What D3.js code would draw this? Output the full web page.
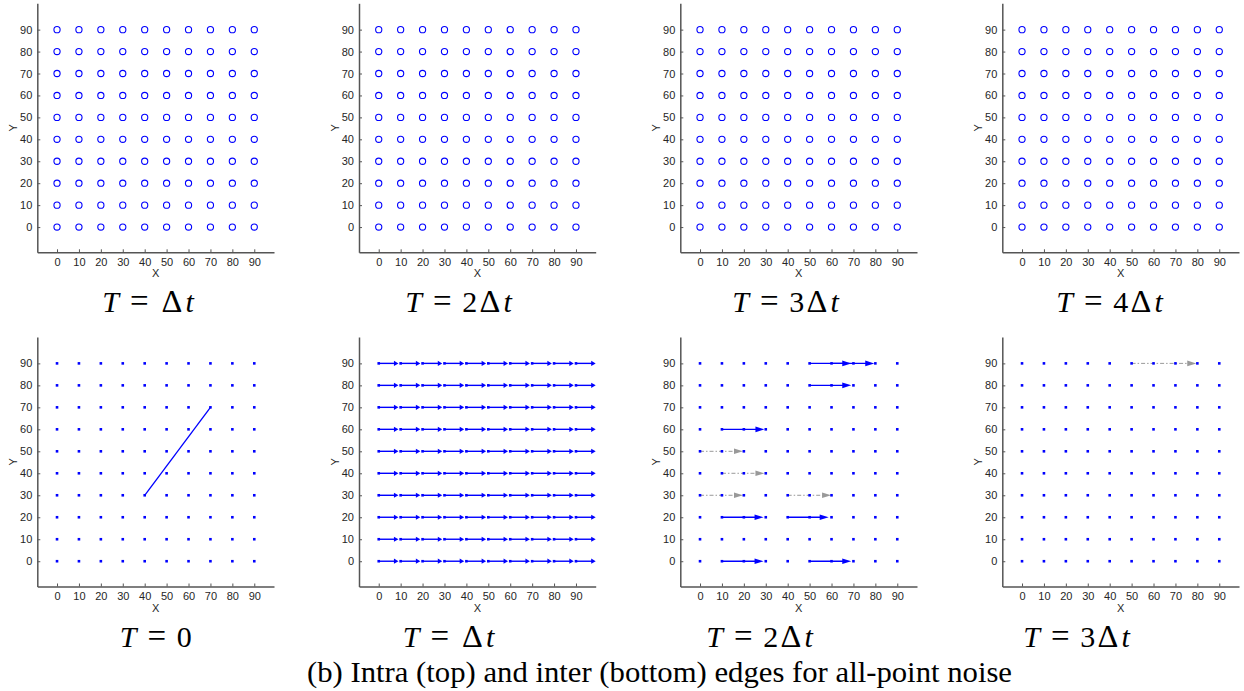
<!DOCTYPE html>
<html><head><meta charset="utf-8">
<script src="https://cdn.jsdelivr.net/npm/d3@7"></script>
<style>
body{margin:0;background:#fff;}
svg{display:block;}
</style></head>
<body>
<svg id="c" width="1244" height="691"></svg>
<script>
// ---------- data ----------
const gridX = [0, 10, 20, 30, 40, 50, 60, 70, 80, 90];
const gridY = [0, 10, 20, 30, 40, 50, 60, 70, 80, 90];
const tickValues = [0, 10, 20, 30, 40, 50, 60, 70, 80, 90];
const topTitles = ["T = Δt", "T = 2Δt", "T = 3Δt", "T = 4Δt"];
const bottomTitles = ["T = 0", "T = Δt", "T = 2Δt", "T = 3Δt"];
const caption = "(b) Intra (top) and inter (bottom) edges for all-point noise";
// T = 0 : single intra edge  [x0, y0, x1, y1]
const t0Edges = [[40, 30, 70, 70]];
// T = Δt : every point linked to right neighbour (quiver, end)
const dtArrowStarts = [0, 10, 20, 30, 40, 50, 60, 70, 80, 90];
const dtArrowEnds   = [9, 19, 29, 39, 49, 59, 69, 79, 89, 99];
// T = 2Δt : [x0, y, x1]
const t2BlueArrows = [[50, 90, 69], [60, 90, 79.5], [50, 80, 69], [10, 60, 29.4],
                      [10, 20, 29], [40, 20, 58.7], [10, 0, 29], [50, 0, 69]];
const t2GrayArrows = [[0, 50, 19.6], [10, 40, 29.4], [0, 30, 19.6], [40, 30, 59.8]];
// T = 3Δt
const t3GrayArrows = [[50, 90, 79.5]];

// ---------- layout ----------
const axLeft = [37.3, 359, 680.3, 1002.3];
const axWidth = 236.7;
const xDomain = [-9, 99];
const yDomain = [-11.5, 102];
const rows = [{top: 3.3, bottom: 252.3, titleY: 311.7, titleX: [148.5, 459, 786, 1110]},
              {top: 337, bottom: 586.5, titleY: 646.5, titleX: [155.5, 449, 760, 1077]}];
const BLUE = "#0000ff", GRAY = "#999999", AXIS = "#555555", TXT = "#262626";
const SANS = "'Liberation Sans', Arial, sans-serif";
const SERIF = "'Liberation Serif', 'Times New Roman', serif";
// Computer-Modern-like advance widths (em) for math title glyphs
const cmAdv = {"T": 0.584, "=": 0.778, "Δ": 0.833, "t": 0.361, "0": 0.5, "2": 0.5, "3": 0.5, "4": 0.5, " ": 0.278};
const TITLE_FS = 30;

const svg = d3.select("#c");

function drawTitle(g, str, cx, y) {
  const chars = Array.from(str);
  const total = d3.sum(chars, ch => cmAdv[ch]) * TITLE_FS;
  let x = cx - total / 2;
  chars.forEach(ch => {
    const w = cmAdv[ch] * TITLE_FS;
    if (ch !== " ") {
      g.append("text").attr("x", x + w / 2).attr("y", y).attr("text-anchor", "middle")
        .attr("font-family", SERIF)
        .attr("font-size", ch === "Δ" ? TITLE_FS * 1.08 : (ch === "=" ? TITLE_FS * 1.1 : TITLE_FS))
        .attr("font-style", (ch === "T" || ch === "t") ? "italic" : "normal")
        .attr("fill", "#000").text(ch);
    }
    x += w;
  });
}

function makePanel(row, col) {
  const r = rows[row];
  const x = d3.scaleLinear().domain(xDomain).range([axLeft[col], axLeft[col] + axWidth]);
  const y = d3.scaleLinear().domain(yDomain).range([r.bottom, r.top]);
  const g = svg.append("g");
  const ax = d3.axisBottom(x).tickValues(tickValues).tickSize(-3).tickPadding(6).tickSizeOuter(0);
  const ay = d3.axisLeft(y).tickValues(tickValues).tickSize(-3).tickPadding(5).tickSizeOuter(0);
  const gx = g.append("g").attr("transform", `translate(0,${r.bottom})`).call(ax);
  const gy = g.append("g").attr("transform", `translate(${axLeft[col]},0)`).call(ay);
  [gx, gy].forEach(a => {
    a.select(".domain").attr("stroke", AXIS).attr("stroke-width", 1.5);
    a.selectAll(".tick line").attr("stroke", AXIS).attr("stroke-width", 1);
    a.selectAll(".tick text").attr("fill", TXT).attr("font-family", SANS).attr("font-size", 11);
  });
  g.append("text").attr("x", axLeft[col] + axWidth / 2).attr("y", r.bottom + 25)
    .attr("text-anchor", "middle").attr("fill", TXT)
    .attr("font-family", SANS).attr("font-size", 11).text("X");
  g.append("text").attr("transform", `translate(${axLeft[col] - 20},${(r.top + r.bottom) / 2}) rotate(-90)`)
    .attr("text-anchor", "middle").attr("fill", TXT)
    .attr("font-family", SANS).attr("font-size", 11).text("Y");
  drawTitle(g, row === 0 ? topTitles[col] : bottomTitles[col], r.titleX[col], r.titleY);
  return {g, x, y};
}

const pts = [];
gridY.forEach(yy => gridX.forEach(xx => pts.push([xx, yy])));

function arrow(p, x0, y0, x1, color, headLen, headHalf, width, dash) {
  const X0 = p.x(x0), X1 = p.x(x1), Y = p.y(y0);
  p.g.append("line").attr("x1", X0).attr("y1", Y).attr("x2", X1 - headLen * 0.6).attr("y2", Y)
    .attr("stroke", color).attr("stroke-width", width).attr("stroke-dasharray", dash || null);
  p.g.append("path").attr("d", `M${X1},${Y}L${X1 - headLen},${Y - headHalf}L${X1 - headLen},${Y + headHalf}Z`)
    .attr("fill", color);
}

// top row: circles
for (let c = 0; c < 4; c++) {
  const p = makePanel(0, c);
  p.g.selectAll("circle.pt").data(pts).join("circle").attr("class", "pt")
    .attr("cx", d => p.x(d[0])).attr("cy", d => p.y(d[1])).attr("r", 3.1)
    .attr("fill", "none").attr("stroke", BLUE).attr("stroke-width", 1.1);
}

// bottom row
const bp = [0, 1, 2, 3].map(c => makePanel(1, c));
t0Edges.forEach(e => bp[0].g.append("line").attr("x1", bp[0].x(e[0])).attr("y1", bp[0].y(e[1]))
  .attr("x2", bp[0].x(e[2])).attr("y2", bp[0].y(e[3])).attr("stroke", BLUE).attr("stroke-width", 1.3));
gridY.forEach(yy => dtArrowStarts.forEach((x0, i) => arrow(bp[1], x0, yy, dtArrowEnds[i], BLUE, 4.5, 2.6, 1.4)));
t2GrayArrows.forEach(a => arrow(bp[2], a[0], a[1], a[2], GRAY, 9, 2.8, 1, "4,2,1.5,2"));
t2BlueArrows.forEach(a => arrow(bp[2], a[0], a[1], a[2], BLUE, 9, 2.8, 1.4));
t3GrayArrows.forEach(a => arrow(bp[3], a[0], a[1], a[2], GRAY, 9, 2.8, 1, "4,2,1.5,2"));
bp.forEach(p => p.g.selectAll("rect.dot").data(pts).join("rect").attr("class", "dot")
  .attr("x", d => p.x(d[0]) - 1.3).attr("y", d => p.y(d[1]) - 1.3).attr("width", 2.6).attr("height", 2.6)
  .attr("fill", BLUE));

// caption
svg.append("text").attr("x", 307).attr("y", 682).attr("font-family", SERIF)
  .attr("font-size", 30).attr("fill", "#000").attr("textLength", 705).attr("lengthAdjust", "spacingAndGlyphs").text(caption);
</script>
</body></html>
